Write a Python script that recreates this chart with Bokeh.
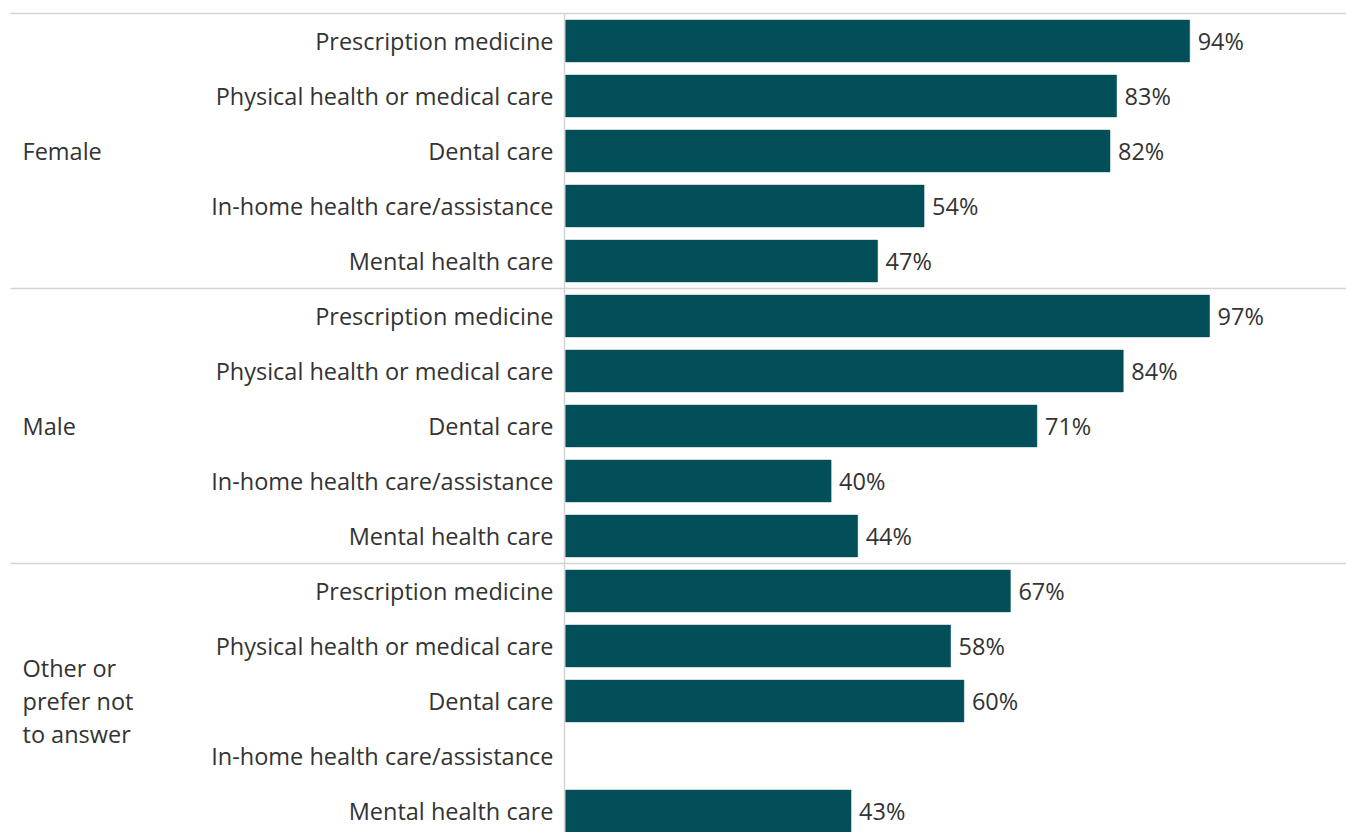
from bokeh.plotting import figure
from bokeh.models import ColumnDataSource, Range1d
from bokeh.core.properties import value
from bokeh.embed import file_html
from bokeh.resources import INLINE

groups = ["Female", "Male", "Other or\nprefer not\nto answer"]
items = ["Prescription medicine", "Physical health or medical care", "Dental care",
         "In-home health care/assistance", "Mental health care"]
female = [94, 83, 82, 54, 47]
male = [97, 84, 71, 40, 44]
other = [67, 58, 60, None, 43]

BAR = "#024f59"
TXT = "#333333"
GRID = "#d4d4d4"
FONT = value("Open Sans")
FS = "23.5px"

W, H = 1346, 832
px_per_pct = 6.64
x0_px = 565
row_px = 55
top_px = 13

x_start = -x0_px / px_per_pct
x_end = x_start + W / px_per_pct
y_top = -0.5 - top_px / row_px
y_bot = y_top + H / row_px

p = figure(width=W, height=H, output_backend="svg", toolbar_location=None,
           x_range=Range1d(x_start, x_end), y_range=Range1d(y_bot, y_top),
           min_border=0, outline_line_color=None)
p.axis.visible = False
p.grid.visible = False
p.background_fill_color = "white"
p.border_fill_color = "white"

rows, vals, labels_txt, item_lbl = [], [], [], []
all_vals = [female, male, other]
for g, series in enumerate(all_vals):
    for i, v in enumerate(series):
        r = g * len(items) + i
        item_lbl.append((r, items[i]))
        if v is not None:
            rows.append(r)
            vals.append(v)
            labels_txt.append(f"{v}%")

src = ColumnDataSource(dict(y=rows, right=vals, lbl=labels_txt))
p.hbar(y="y", left=0, right="right", height=0.76, source=src,
       fill_color=BAR, line_color=BAR, line_width=0.5)
p.text(x="right", y="y", text="lbl", source=src, x_offset=8,
       text_font=FONT, text_font_size=FS, text_color=TXT,
       text_baseline="middle", text_align="left")

isrc = ColumnDataSource(dict(y=[r for r, _ in item_lbl], t=[t for _, t in item_lbl]))
p.text(x=x_start + 553 / px_per_pct, y="y", text="t", source=isrc,
       text_font=FONT, text_font_size=FS, text_color=TXT,
       text_baseline="middle", text_align="right")

# group labels
gy, gt = [], []
for g, name in enumerate(groups):
    lines = name.split("\n")
    center = g * len(items) + 2
    n = len(lines)
    for k, ln in enumerate(lines):
        gy.append(center + (k - (n - 1) / 2) * 0.6)
        gt.append(ln)
gsrc = ColumnDataSource(dict(y=gy, t=gt))
p.text(x=x_start + 22 / px_per_pct, y="y", text="t", source=gsrc,
       text_font=FONT, text_font_size=FS, text_color=TXT,
       text_baseline="middle", text_align="left")

# separators
sep_y = [g * len(items) - 0.5 for g in range(len(groups))]
p.segment(x0=[x_start + 10 / px_per_pct] * len(sep_y), x1=[x_end] * len(sep_y),
          y0=sep_y, y1=sep_y, line_color=GRID, line_width=1.5)
p.segment(x0=[x_start + 564 / px_per_pct], x1=[x_start + 564 / px_per_pct],
          y0=[-0.5], y1=[y_bot], line_color=GRID, line_width=1.5)

open("out.html", "w").write(file_html(p, INLINE))
